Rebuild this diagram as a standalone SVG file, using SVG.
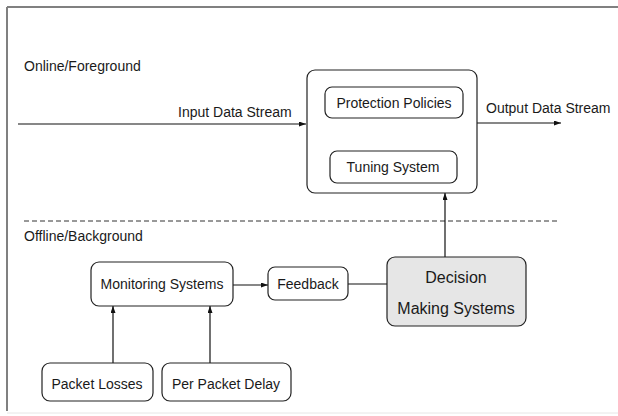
<svg xmlns="http://www.w3.org/2000/svg" width="618" height="416" viewBox="0 0 618 416">
<defs>
<marker id="ah" viewBox="0 0 7 5" refX="7" refY="2.5" markerWidth="7" markerHeight="5" markerUnits="userSpaceOnUse" orient="auto-start-reverse">
<path d="M0,0 L7,2.5 L0,5 Z" fill="#111"/>
</marker>
<style>
text{font-family:"Liberation Sans",Arial,sans-serif;font-size:14px;fill:#1a1a1a}
.box{fill:#fff;stroke:#222;stroke-width:1.2}
.dec{fill:#e6e6e6;stroke:#222;stroke-width:1.2}
.c{fill:none;stroke:#111;stroke-width:1.2}
.mid{text-anchor:middle}
</style>
</defs>
<rect width="618" height="416" fill="#fff"/>
<g id="frame">
<line x1="7" y1="7" x2="618" y2="7" stroke="#808080" stroke-width="2"/>
<line x1="7" y1="7" x2="7" y2="411" stroke="#808080" stroke-width="2"/>
<line x1="7" y1="413" x2="618" y2="413" stroke="#e6e6e6" stroke-width="1"/>
</g>
<g id="labels">
<text x="24" y="71">Online/Foreground</text>
<text x="24" y="241">Offline/Background</text>
<line x1="24" y1="221" x2="557" y2="221" stroke="#333" stroke-width="1" stroke-dasharray="5,3"/>
</g>
<g id="connectors">
<line class="c" x1="18" y1="124" x2="306" y2="124" marker-end="url(#ah)"/>
<text x="178" y="117">Input Data Stream</text>
<line class="c" x1="477" y1="123" x2="561" y2="123" marker-end="url(#ah)"/>
<text x="486" y="113">Output Data Stream</text>
<line class="c" x1="392" y1="119" x2="392" y2="150" marker-start="url(#ah)" marker-end="url(#ah)"/>
<line class="c" x1="445" y1="257" x2="445" y2="193" marker-end="url(#ah)"/>
<line class="c" x1="233" y1="285" x2="268" y2="285" marker-end="url(#ah)"/>
<line class="c" x1="348" y1="284" x2="387" y2="284"/>
<line class="c" x1="113" y1="363" x2="113" y2="306" marker-end="url(#ah)"/>
<line class="c" x1="210" y1="368" x2="210" y2="306" marker-end="url(#ah)"/>
</g>
<g id="online-box">
<rect class="box" x="307" y="70" width="170" height="123" rx="8"/>
</g>
<g id="protection-policies">
<rect class="box" x="325" y="87" width="138" height="31" rx="7"/>
<text class="mid" x="394" y="108">Protection Policies</text>
</g>
<g id="tuning-system">
<rect class="box" x="330" y="151" width="127" height="32" rx="7"/>
<text class="mid" x="393" y="172">Tuning System</text>
</g>
<g id="monitoring-systems">
<rect class="box" x="91" y="262" width="142" height="44" rx="8"/>
<text class="mid" x="162" y="289">Monitoring Systems</text>
</g>
<g id="feedback">
<rect class="box" x="268" y="267" width="80" height="33" rx="7"/>
<text class="mid" x="308" y="289">Feedback</text>
</g>
<g id="decision-making-systems">
<rect class="dec" x="387" y="257" width="139" height="69" rx="8"/>
<text class="mid" x="456" y="283" style="font-size:16px">Decision</text>
<text class="mid" x="456" y="314" style="font-size:16px">Making Systems</text>
</g>
<g id="packet-losses">
<rect class="box" x="42" y="363" width="111" height="38" rx="8"/>
<text class="mid" x="97" y="389">Packet Losses</text>
</g>
<g id="per-packet-delay">
<rect class="box" x="162" y="363" width="129" height="38" rx="8"/>
<text class="mid" x="226" y="389">Per Packet Delay</text>
</g>
</svg>
